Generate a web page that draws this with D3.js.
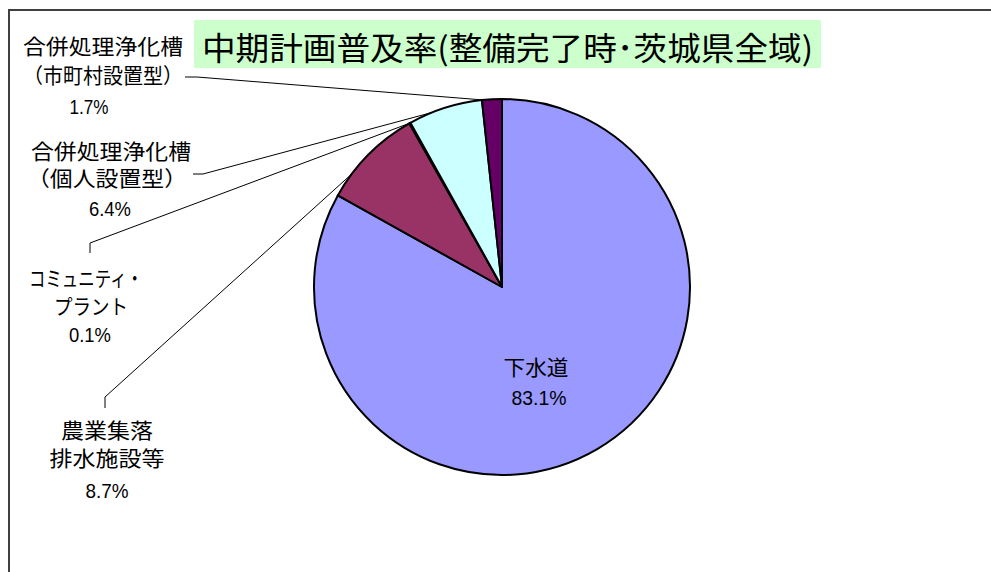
<!DOCTYPE html>
<html>
<head>
<meta charset="utf-8">
<script src="https://cdn.jsdelivr.net/npm/d3@7"></script>
<style>
  html, body { margin: 0; padding: 0; background: #fff; overflow: hidden; }
  svg { display: block; }
</style>
</head>
<body>
<svg id="chart" width="991" height="572"></svg>
<script>
// data
const categories = ['下水道', '農業集落排水施設等', 'コミュニティ・プラント', '合併処理浄化槽（個人設置型）', '合併処理浄化槽（市町村設置型）'];
const shares = [83.1, 8.7, 0.1, 6.4, 1.7];
const colors = ['#9999ff', '#993366', '#ffffcc', '#ccffff', '#660066'];
const titleText = '中期計画普及率(整備完了時･茨城県全域)';

// label layout: text lines, where they sit, and how the leader is drawn
const labelLines = [
  [['下水道', 536, 366, 65]],
  [['農業集落', 107, 429, 92], ['排水施設等', 107, 457, 115]],
  [['コミュニティ・', 86, 277, 114], ['プラント', 91, 305, 74]],
  [['合併処理浄化槽', 111, 150, 160], ['（個人設置型）', 107, 177, 160]],
  [['合併処理浄化槽', 103, 45, 160], ['（市町村設置型）', 103, 74, 160]]
];
// percent label: [x, y, width]
const pctPos = [[539, 397, 55], [107, 490, 43], [90, 334, 42], [110, 208, 42], [89, 106, 39]];
// leader: [x0, y0, x1, y1, position inside slice (0..1)]
const leaders = [
  null,
  [105, 408, 105, 397, 0.25],
  [90, 253, 90, 243, 0.5],
  [193, 174, 203, 174, 0.32],
  [185, 77, 197, 77, 0.05]
];

const svg = d3.select('#chart');
const cx = 502, cy = 287, r = 188;

// chart frame: only the top and left edges are inside the picture
svg.append('path')
   .attr('d', 'M9,600 V10 H1000')
   .attr('fill', 'none').attr('stroke', '#404040').attr('stroke-width', 2);

const pie = d3.pie().sort(null).value(d => d);
const arcs = pie(shares);
const arc = d3.arc().innerRadius(0).outerRadius(r);

// leader lines (drawn first so the pie sits on top)
arcs.forEach((a, i) => {
  const l = leaders[i];
  if (!l) return;
  const ang = a.startAngle + l[4] * (a.endAngle - a.startAngle);
  const px = cx + r * Math.sin(ang), py = cy - r * Math.cos(ang);
  svg.append('path')
     .attr('d', d3.line()([[l[0], l[1]], [l[2], l[3]], [px, py]]))
     .attr('fill', 'none').attr('stroke', '#000').attr('stroke-width', 1);
});

svg.append('g')
   .attr('transform', `translate(${cx},${cy})`)
   .selectAll('path')
   .data(arcs)
   .join('path')
     .attr('d', arc)
     .attr('fill', (d, i) => colors[i])
     .attr('stroke', '#000')
     .attr('stroke-width', 2)
     .attr('stroke-linejoin', 'round');

// labels
labelLines.forEach((lines, i) => {
  lines.forEach(([t, x, y, w]) => {
    svg.append('text')
       .attr('x', x).attr('y', y)
       .attr('text-anchor', 'middle')
       .attr('dominant-baseline', 'central')
       .attr('textLength', w)
       .attr('lengthAdjust', 'spacingAndGlyphs')
       .style('font-family', '"Noto Sans CJK JP", sans-serif')
       .style('font-size', '21px')
       .attr('fill', '#000')
       .text(t);
  });
  svg.append('text')
     .attr('x', pctPos[i][0]).attr('y', pctPos[i][1])
     .attr('text-anchor', 'middle')
     .attr('dominant-baseline', 'central')
     .attr('textLength', pctPos[i][2])
     .attr('lengthAdjust', 'spacingAndGlyphs')
     .style('font-family', '"Liberation Sans", Arial, sans-serif')
     .style('font-size', '21px')
     .attr('fill', '#000')
     .text(d3.format('.1f')(shares[i]) + '%');
});

// title box
svg.append('rect')
   .attr('x', 194).attr('y', 20).attr('width', 627).attr('height', 48)
   .attr('fill', '#ccffcc');
svg.append('text')
   .attr('x', 507.5).attr('y', 46)
   .attr('text-anchor', 'middle')
   .attr('dominant-baseline', 'central')
   .attr('textLength', 611)
   .attr('lengthAdjust', 'spacingAndGlyphs')
   .style('font-family', '"Noto Sans CJK JP", sans-serif')
   .style('font-size', '32px')
   .attr('fill', '#000')
   .text(titleText);
</script>
</body>
</html>
